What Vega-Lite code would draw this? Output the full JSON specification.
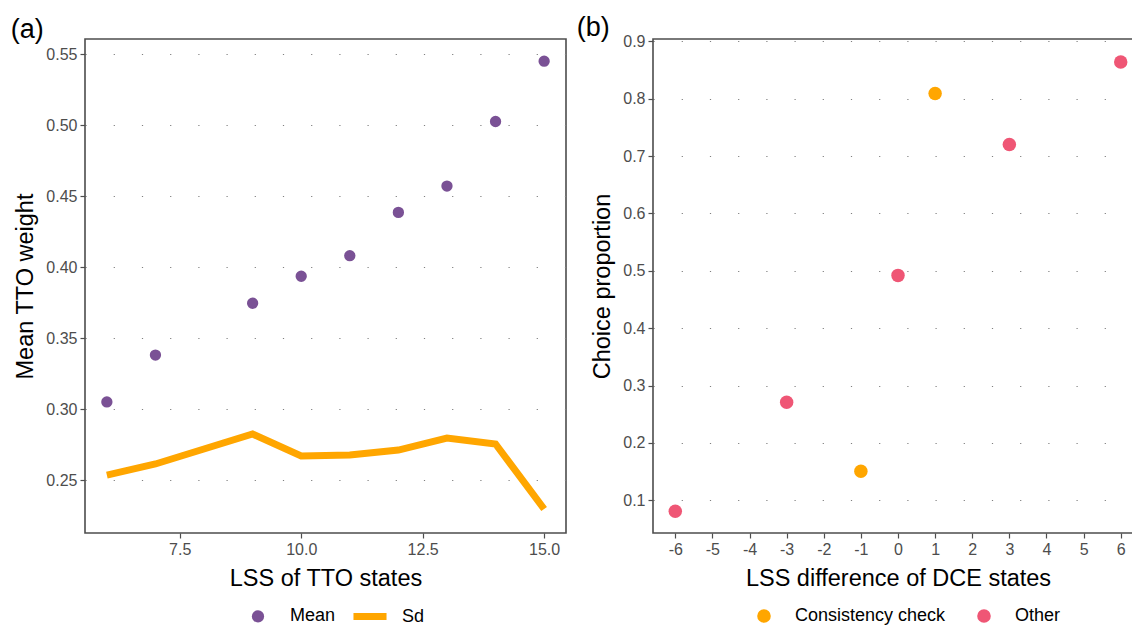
{
  "$schema": "https://vega.github.io/schema/vega-lite/v6.json",
  "background": "white",
  "padding": {"left": 10, "top": 13, "right": 0, "bottom": 0},
  "datasets": {
    "tto": [
      {"lss": 6, "value": 0.305, "series": "Mean"},
      {"lss": 7, "value": 0.338, "series": "Mean"},
      {"lss": 9, "value": 0.3745, "series": "Mean"},
      {"lss": 10, "value": 0.3935, "series": "Mean"},
      {"lss": 11, "value": 0.408, "series": "Mean"},
      {"lss": 12, "value": 0.4385, "series": "Mean"},
      {"lss": 13, "value": 0.457, "series": "Mean"},
      {"lss": 14, "value": 0.5025, "series": "Mean"},
      {"lss": 15, "value": 0.545, "series": "Mean"},
      {"lss": 6, "value": 0.2535, "series": "Sd"},
      {"lss": 7, "value": 0.2613, "series": "Sd"},
      {"lss": 9, "value": 0.2824, "series": "Sd"},
      {"lss": 10, "value": 0.2669, "series": "Sd"},
      {"lss": 11, "value": 0.2676, "series": "Sd"},
      {"lss": 12, "value": 0.2711, "series": "Sd"},
      {"lss": 13, "value": 0.2796, "series": "Sd"},
      {"lss": 14, "value": 0.2754, "series": "Sd"},
      {"lss": 15, "value": 0.2296, "series": "Sd"}
    ],
    "dce": [
      {"diff": -6, "prop": 0.081, "type": "Other"},
      {"diff": -3, "prop": 0.271, "type": "Other"},
      {"diff": -1, "prop": 0.1505, "type": "Consistency check"},
      {"diff": 0, "prop": 0.492, "type": "Other"},
      {"diff": 1, "prop": 0.809, "type": "Consistency check"},
      {"diff": 3, "prop": 0.72, "type": "Other"},
      {"diff": 6, "prop": 0.864, "type": "Other"}
    ]
  },
  "spacing": 87,
  "bounds": "flush",
  "resolve": {
    "scale": {"x": "independent", "y": "independent", "color": "independent", "shape": "independent"},
    "legend": {"color": "independent", "shape": "independent"}
  },
  "hconcat": [
    {
      "width": 481,
      "height": 494,
      "title": {"text": "(a)", "anchor": "start", "frame": "bounds", "fontSize": 27, "fontWeight": "normal", "color": "black", "offset": -5, "dx": -3},
      "layer": [
        {
          "data": {"name": "tto"},
          "transform": [{"filter": "datum.series == 'Sd'"}],
          "mark": {"type": "line", "color": "#ffa600", "strokeWidth": 7, "strokeCap": "butt", "strokeJoin": "miter"},
          "encoding": {
            "x": {"field": "lss", "type": "quantitative", "scale": {"domain": [5.55, 15.45], "nice": false, "zero": false},
                  "axis": {"title": "LSS of TTO states", "values": [7.5, 10, 12.5, 15], "format": ".1f"}},
            "y": {"field": "value", "type": "quantitative", "scale": {"domain": [0.2127, 0.5606], "nice": false, "zero": false},
                  "axis": {"title": "Mean TTO weight", "values": [0.25, 0.3, 0.35, 0.4, 0.45, 0.5, 0.55], "format": ".2f"}}
          }
        },
        {
          "data": {"name": "tto"},
          "transform": [{"filter": "datum.series == 'Mean'"}],
          "mark": {"type": "point", "filled": true, "size": 128, "opacity": 1},
          "encoding": {
            "x": {"field": "lss", "type": "quantitative"},
            "y": {"field": "value", "type": "quantitative"},
            "color": {"field": "series", "type": "nominal",
                      "scale": {"domain": ["Mean", "Sd"], "range": ["#7a5195", "#ffa600"]},
                      "legend": {"title": null, "orient": "none", "legendX": 164, "legendY": 568, "direction": "horizontal", "symbolSize": 150, "labelOffset": 23, "columnPadding": 14, "symbolOpacity": 1}},
            "shape": {"field": "series", "type": "nominal",
                      "scale": {"domain": ["Mean", "Sd"], "range": ["circle", "M-2.7,-0.57H2.7V0.57H-2.7Z"]},
                      "legend": {"title": null, "orient": "none", "legendX": 164, "legendY": 568, "direction": "horizontal", "symbolSize": 150, "labelOffset": 23, "columnPadding": 14, "symbolOpacity": 1}}
          }
        }
      ]
    },
    {
      "width": 490,
      "height": 494,
      "title": {"text": "(b)", "anchor": "start", "frame": "bounds", "fontSize": 27, "fontWeight": "normal", "color": "black", "offset": -9, "dx": -14},
      "data": {"name": "dce"},
      "mark": {"type": "point", "filled": true, "size": 182, "opacity": 1},
      "encoding": {
        "x": {"field": "diff", "type": "quantitative", "scale": {"domain": [-6.6, 6.6], "nice": false, "zero": false},
              "axis": {"title": "LSS difference of DCE states", "values": [-6, -5, -4, -3, -2, -1, 0, 1, 2, 3, 4, 5, 6], "labelExpr": "'' + datum.value"}},
        "y": {"field": "prop", "type": "quantitative", "scale": {"domain": [0.0429, 0.9041], "nice": false, "zero": false},
              "axis": {"title": "Choice proportion", "values": [0.1, 0.2, 0.3, 0.4, 0.5, 0.6, 0.7, 0.8, 0.9], "format": ".1f"}},
        "color": {"field": "type", "type": "nominal",
                  "scale": {"domain": ["Consistency check", "Other"], "range": ["#ffa600", "#ef5675"]},
                  "legend": {"title": null, "orient": "none", "legendX": 102, "legendY": 568, "direction": "horizontal", "symbolSize": 185, "labelOffset": 22, "columnPadding": 29, "symbolOpacity": 1}}
      }
    }
  ],
  "config": {
    "font": "Liberation Sans",
    "view": {"stroke": "#4d4d4d", "strokeWidth": 1.6},
    "axis": {
      "domain": false,
      "tickColor": "#4d4d4d",
      "tickSize": 5,
      "tickWidth": 1.2,
      "labelFontSize": 16,
      "labelColor": "#4d4d4d",
      "labelPadding": 3,
      "titleFontSize": 23.5,
      "titleFontWeight": "normal",
      "titleColor": "black",
      "titlePadding": 8,
      "gridColor": "#808080",
      "gridWidth": 1.2,
      "gridDash": [1.2, 27],
      "gridOpacity": 1
    },
    "axisX": {"grid": false, "titlePadding": 9},
    "axisY": {"grid": true},
    "legend": {
      "labelFontSize": 18,
      "labelColor": "black"
    }
  }
}
